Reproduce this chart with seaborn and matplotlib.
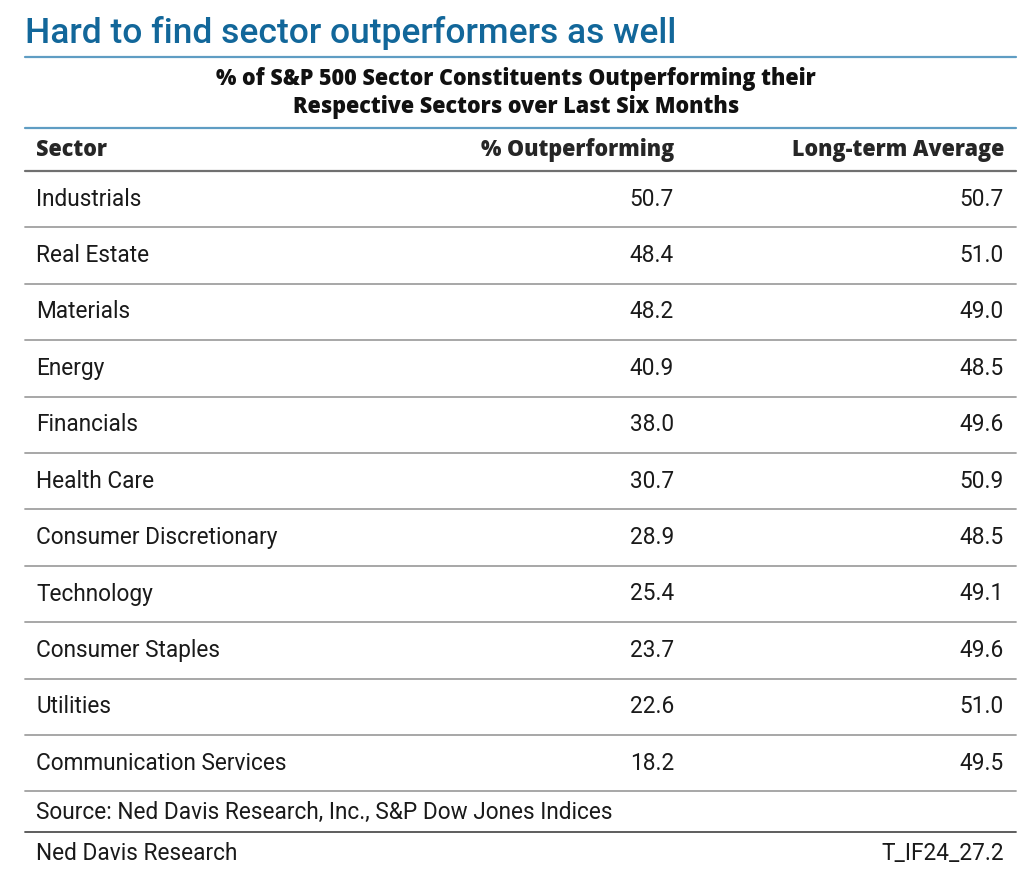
import matplotlib.pyplot as plt
import seaborn as sns

sectors = ["Industrials", "Real Estate", "Materials", "Energy", "Financials",
           "Health Care", "Consumer Discretionary", "Technology",
           "Consumer Staples", "Utilities", "Communication Services"]
pct_outperforming = [50.7, 48.4, 48.2, 40.9, 38.0, 30.7, 28.9, 25.4, 23.7, 22.6, 18.2]
long_term_avg = [50.7, 51.0, 49.0, 48.5, 49.6, 50.9, 48.5, 49.1, 49.6, 51.0, 49.5]
headers = ["Sector", "% Outperforming", "Long-term Average"]

title = "Hard to find sector outperformers as well"
subtitle = ("% of S&P 500 Sector Constituents Outperforming their\n"
            "Respective Sectors over Last Six Months")
source = "Source: Ned Davis Research, Inc., S&P Dow Jones Indices"
footer_left = "Ned Davis Research"
footer_right = "T_IF24_27.2"

sns.set_theme(style="white")
plt.rcParams["font.family"] = ["Roboto", "DejaVu Sans"]
heavy = dict(family=["Open Sans", "DejaVu Sans"], fontweight="heavy")

W, H = 1030, 883
fig = plt.figure(figsize=(W / 100, H / 100), dpi=100)
ax = fig.add_axes([0, 0, 1, 1])
ax.set_xlim(0, W)
ax.set_ylim(H, 0)
ax.axis("off")

blue = "#12679a"
line_blue = "#5f9dc3"
x0, x1 = 25, 1016
col_left = 36
col_mid = 674
col_right = 1004
txt = "#1a1a1a"

ax.text(x0, 43, title, color=blue, fontsize=25.5, fontweight="medium", va="baseline")
ax.plot([x0, x1], [57, 57], color=line_blue, lw=1.6)
ax.text(516, 93, subtitle, ha="center", va="center", fontsize=15.5,
        linespacing=1.25, color="#111111", **heavy)
ax.plot([x0, x1], [128, 128], color=line_blue, lw=1.6)

hy = 150
ax.text(col_left, hy, headers[0], ha="left", va="center", fontsize=15.5, **heavy)
ax.text(col_mid, hy, headers[1], ha="right", va="center", fontsize=15.5, **heavy)
ax.text(col_right, hy, headers[2], ha="right", va="center", fontsize=15.5, **heavy)
ax.plot([x0, x1], [171, 171], color="#707070", lw=1.6)

top, row_h = 171, 56.4
for i, (s, p, a) in enumerate(zip(sectors, pct_outperforming, long_term_avg)):
    y = top + row_h * (i + 0.5)
    ax.text(col_left, y, s, ha="left", va="center", fontsize=16.3, color=txt)
    ax.text(col_mid, y, f"{p:.1f}", ha="right", va="center", fontsize=16.3, color=txt)
    ax.text(col_right, y, f"{a:.1f}", ha="right", va="center", fontsize=16.3, color=txt)
    ax.plot([x0, x1], [top + row_h * (i + 1)] * 2, color="#a0a0a0", lw=1.3)

ax.text(col_left, 812, source, ha="left", va="center", fontsize=16.3, color=txt)
ax.plot([x0, x1], [832, 832], color="#505050", lw=1.3)
ax.text(col_left, 854, footer_left, ha="left", va="center", fontsize=16.3, color=txt)
ax.text(col_right, 854, footer_right, ha="right", va="center", fontsize=16.3, color=txt)

fig.savefig("out.png", dpi=100, facecolor="white")
